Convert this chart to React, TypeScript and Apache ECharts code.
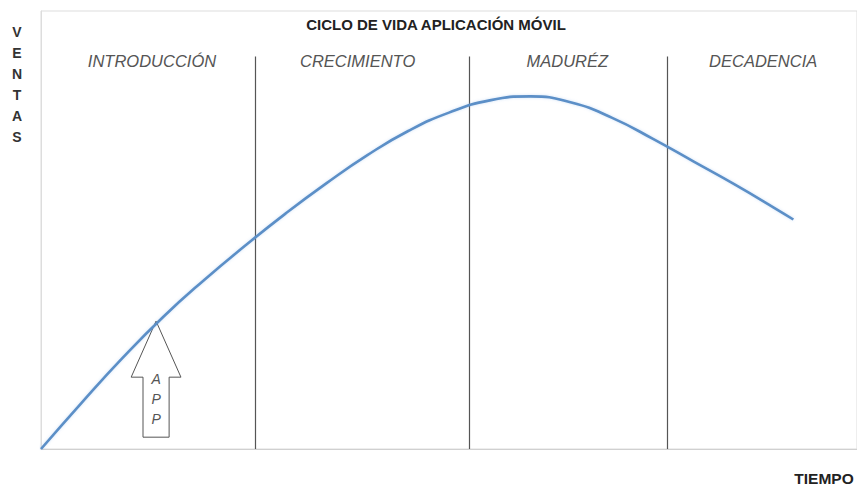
import React, { useEffect, useRef } from "react";
import * as echarts from "echarts";

const titleText = "CICLO DE VIDA APLICACIÓN MÓVIL";
const yAxisLetters = ["V", "E", "N", "T", "A", "S"];
const xAxisName = "TIEMPO";

const stageNames = ["INTRODUCCIÓN", "CRECIMIENTO", "MADURÉZ", "DECADENCIA"];
const stageLabelX = [13.6, 38.8, 64.5, 88.5];
const stageLabelY = 88.6;
const stageBoundaries = [26.2, 52.5, 76.8];
const boundaryTop = 89.6;

const timeValues = [0, 5, 10, 15, 20, 25, 30, 35, 40, 45, 50, 55, 60, 65, 70, 75, 80, 85, 90, 92.2];
const salesValues = [0, 10.6, 20.8, 30.2, 38.6, 46.4, 53.8, 60.7, 67.1, 72.6, 76.8, 79.6, 80.5, 79.1, 75.6, 70.8, 65.6, 60.4, 54.9, 52.4];

const arrowLetters = ["A", "P", "P"];
const arrowX = 14.1;
const arrowTipY = 29.2;
const arrowHeadBaseY = 16.4;
const arrowBottomY = 2.7;
const arrowHeadHalfW = 3.05;
const arrowShaftHalfW = 1.6;

export default function App() {
  const ref = useRef<HTMLDivElement>(null);
  useEffect(() => {
    if (!ref.current) return;
    const chart = echarts.init(ref.current, undefined, { renderer: "svg" });
    const data = timeValues.map((t, i) => [t, salesValues[i]]);
    chart.setOption({
      animation: false,
      backgroundColor: "#ffffff",
      grid: { left: 41, right: -1, top: 11, bottom: 40, show: true, borderColor: "#dddddd", borderWidth: 1 },
      xAxis: {
        type: "value", min: 0, max: 100,
        axisLine: { show: true, lineStyle: { color: "#d0d0d0" } },
        axisTick: { show: false }, axisLabel: { show: false }, splitLine: { show: false },
      },
      yAxis: {
        type: "value", min: 0, max: 100,
        axisLine: { show: true, lineStyle: { color: "#dddddd" } },
        axisTick: { show: false }, axisLabel: { show: false }, splitLine: { show: false },
      },
      series: [
        {
          type: "line",
          data,
          smooth: 0.5,
          showSymbol: false,
          z: 5,
          lineStyle: { color: "#5b8fc7", width: 2.6, shadowColor: "rgba(120,170,230,0.35)", shadowBlur: 3 },
          markLine: {
            silent: true,
            symbol: ["none", "none"],
            label: { show: false },
            lineStyle: { color: "#555555", width: 1.2, type: "solid" },
            data: stageBoundaries.map((b) => [{ coord: [b, 0] }, { coord: [b, boundaryTop] }]),
          },
        },
      ],
    });

    const px = (x: number, y: number) => chart.convertToPixel({ gridIndex: 0 }, [x, y]) as number[];
    const tip = px(arrowX, arrowTipY);
    const hl = px(arrowX - arrowHeadHalfW, arrowHeadBaseY);
    const hr = px(arrowX + arrowHeadHalfW, arrowHeadBaseY);
    const sl = px(arrowX - arrowShaftHalfW, arrowHeadBaseY);
    const sr = px(arrowX + arrowShaftHalfW, arrowHeadBaseY);
    const bl = px(arrowX - arrowShaftHalfW, arrowBottomY);
    const br = px(arrowX + arrowShaftHalfW, arrowBottomY);

    const graphics: any[] = [
      {
        type: "polygon",
        z: 1,
        shape: { points: [tip, hr, sr, br, bl, sl, hl] },
        style: { fill: "rgba(255,255,255,0)", stroke: "#555555", lineWidth: 1 },
      },
      {
        type: "text",
        x: 436, y: 24, z: 10,
        style: { text: titleText, font: "bold 15px 'Liberation Sans', Arial, sans-serif", fill: "#222222", textAlign: "center", textVerticalAlign: "middle" },
      },
      {
        type: "text",
        x: 17, y: 84, z: 10,
        style: { text: yAxisLetters.join("\n"), font: "bold 14px 'Liberation Sans', Arial, sans-serif", lineHeight: 21, fill: "#333333", textAlign: "center", textVerticalAlign: "middle" },
      },
      {
        type: "text",
        x: 824, y: 478, z: 10,
        style: { text: xAxisName, font: "bold 15.5px 'Liberation Sans', Arial, sans-serif", fill: "#222222", textAlign: "center", textVerticalAlign: "middle" },
      },
    ];
    stageNames.forEach((name, i) => {
      const p = px(stageLabelX[i], stageLabelY);
      graphics.push({
        type: "text",
        x: p[0], y: p[1], z: 10,
        style: { text: name, font: "italic 16.5px 'Liberation Sans', Arial, sans-serif", fill: "#555555", textAlign: "center", textVerticalAlign: "middle" },
      });
    });
    const mid = px(arrowX, (arrowHeadBaseY + arrowBottomY) / 2 + 1.9);
    graphics.push({
      type: "text",
      x: mid[0], y: mid[1], z: 10,
      style: { text: arrowLetters.join("\n"), font: "italic 14px 'Liberation Sans', Arial, sans-serif", lineHeight: 20, fill: "#555555", textAlign: "center", textVerticalAlign: "middle" },
    });
    chart.setOption({ graphic: graphics });

    return () => chart.dispose();
  }, []);
  return <div ref={ref} style={{ position: "fixed", left: 0, top: 0, width: 857, height: 489 }} />;
}
